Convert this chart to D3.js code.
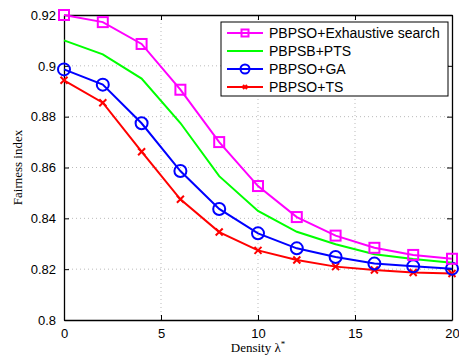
<!DOCTYPE html>
<html>
<head>
<meta charset="utf-8">
<script src="https://cdn.jsdelivr.net/npm/d3@7"></script>
<style>
body{margin:0;background:#fff;}
</style>
</head>
<body>
<script>
var density=[0,2,4,6,8,10,12,14,16,18,20];
var exhaustive=[0.920,0.9172,0.9086,0.8906,0.8700,0.8527,0.8405,0.8332,0.8284,0.8256,0.8241];
var pts=[0.910,0.9045,0.8950,0.8775,0.8566,0.8429,0.8347,0.8298,0.8259,0.8240,0.8225];
var ga=[0.8986,0.8926,0.8774,0.8586,0.8437,0.8341,0.8282,0.8248,0.8222,0.8211,0.8202];
var ts=[0.8943,0.8855,0.8662,0.8475,0.8346,0.8274,0.8236,0.8210,0.8197,0.8187,0.8183];
var xTicks=[0,5,10,15,20];
var yTicks=[0.8,0.82,0.84,0.86,0.88,0.9,0.92];
var names=["PBPSO+Exhaustive search","PBPSB+PTS","PBPSO+GA","PBPSO+TS"];

var series=[
  {name:names[0],vals:exhaustive,color:"#ff00ff",marker:"square"},
  {name:names[1],vals:pts,color:"#00ff00",marker:"none"},
  {name:names[2],vals:ga,color:"#0000ff",marker:"circle"},
  {name:names[3],vals:ts,color:"#ff0000",marker:"x"}
];

var W=459,H=360;
var pL=64,pR=452,pT=15,pB=320;

var svg=d3.select("body").append("svg")
  .attr("width",W).attr("height",H);

var x=d3.scaleLinear().domain([0,20]).range([pL,pR]);
var y=d3.scaleLinear().domain([0.8,0.92]).range([pB,pT]);

// grid
svg.selectAll(".gx").data(xTicks.slice(1,-1)).enter().append("line")
  .attr("x1",function(d){return x(d);}).attr("x2",function(d){return x(d);})
  .attr("y1",pT).attr("y2",pB)
  .attr("stroke","#bbb").attr("stroke-width",1).attr("stroke-dasharray","1,3");
svg.selectAll(".gy").data(yTicks.slice(1,-1)).enter().append("line")
  .attr("y1",function(d){return y(d);}).attr("y2",function(d){return y(d);})
  .attr("x1",pL).attr("x2",pR)
  .attr("stroke","#bbb").attr("stroke-width",1).attr("stroke-dasharray","1,3");

// axes
var fmt=function(d){return d3.format(".2~f")(d);};
function styleText(g){g.selectAll("text").attr("font-size",13).attr("font-family","Liberation Sans, Arial, sans-serif").attr("fill","#000");}
svg.append("g").attr("transform","translate(0,"+pB+")")
  .call(d3.axisBottom(x).tickValues(xTicks).tickSizeInner(-5).tickSizeOuter(0).tickPadding(9))
  .call(styleText);
svg.append("g").attr("transform","translate("+pL+",0)")
  .call(d3.axisLeft(y).tickValues(yTicks).tickFormat(fmt).tickSizeInner(-5).tickSizeOuter(0).tickPadding(8))
  .call(styleText);
svg.append("g").attr("transform","translate(0,"+pT+")")
  .call(d3.axisTop(x).tickValues(xTicks).tickSizeInner(-5).tickSizeOuter(0).tickFormat(""));
svg.append("g").attr("transform","translate("+pR+",0)")
  .call(d3.axisRight(y).tickValues(yTicks).tickSizeInner(-5).tickSizeOuter(0).tickFormat(""));
svg.selectAll(".domain").attr("stroke","#000").attr("stroke-width",1.3);
svg.selectAll(".tick line").attr("stroke","#000");

var line=d3.line()
  .x(function(d,i){return x(density[i]);})
  .y(function(d){return y(d);});

function drawMarker(g,type,cx,cy,color,sz){
  if(type=="square"){
    g.append("rect").attr("x",cx-sz).attr("y",cy-sz).attr("width",2*sz).attr("height",2*sz)
      .attr("fill","none").attr("stroke",color).attr("stroke-width",2);
  } else if(type=="circle"){
    g.append("circle").attr("cx",cx).attr("cy",cy).attr("r",sz+1)
      .attr("fill","none").attr("stroke",color).attr("stroke-width",2);
  } else if(type=="x"){
    var a=sz-1.5;
    g.append("path").attr("d","M"+(cx-a)+","+(cy-a)+"L"+(cx+a)+","+(cy+a)+"M"+(cx-a)+","+(cy+a)+"L"+(cx+a)+","+(cy-a))
      .attr("stroke",color).attr("stroke-width",2);
  }
}

series.slice().reverse().forEach(function(s){
  var g=svg.append("g");
  g.append("path").attr("d",line(s.vals)).attr("fill","none")
    .attr("stroke",s.color).attr("stroke-width",2);
  s.vals.forEach(function(v,i){drawMarker(g,s.marker,x(density[i]),y(v),s.color,5);});
});

// legend
var lg=svg.append("g");
lg.append("rect").attr("x",221).attr("y",22).attr("width",227).attr("height",74)
  .attr("fill","#fff").attr("stroke","#000").attr("stroke-width",1);
series.forEach(function(s,i){
  var ly=33+i*18;
  lg.append("line").attr("x1",227).attr("x2",263).attr("y1",ly).attr("y2",ly)
    .attr("stroke",s.color).attr("stroke-width",2);
  drawMarker(lg,s.marker,245,ly,s.color,3.5);
  lg.append("text").attr("x",269).attr("y",ly+5).text(s.name)
    .attr("font-size",14).attr("font-family","Liberation Sans, Arial, sans-serif");
});

// labels
svg.append("text").attr("x",(pL+pR)/2).attr("y",352).attr("text-anchor","middle")
  .attr("font-family","Liberation Serif, Times New Roman, serif").attr("font-size",13)
  .text("Density λ").append("tspan").attr("baseline-shift","super").attr("font-size",9).text("*");
svg.append("text").attr("transform","translate(22,"+((pT+pB)/2)+") rotate(-90)")
  .attr("text-anchor","middle")
  .attr("font-family","Liberation Serif, Times New Roman, serif").attr("font-size",13)
  .text("Fairness index");
</script>
</body>
</html>
